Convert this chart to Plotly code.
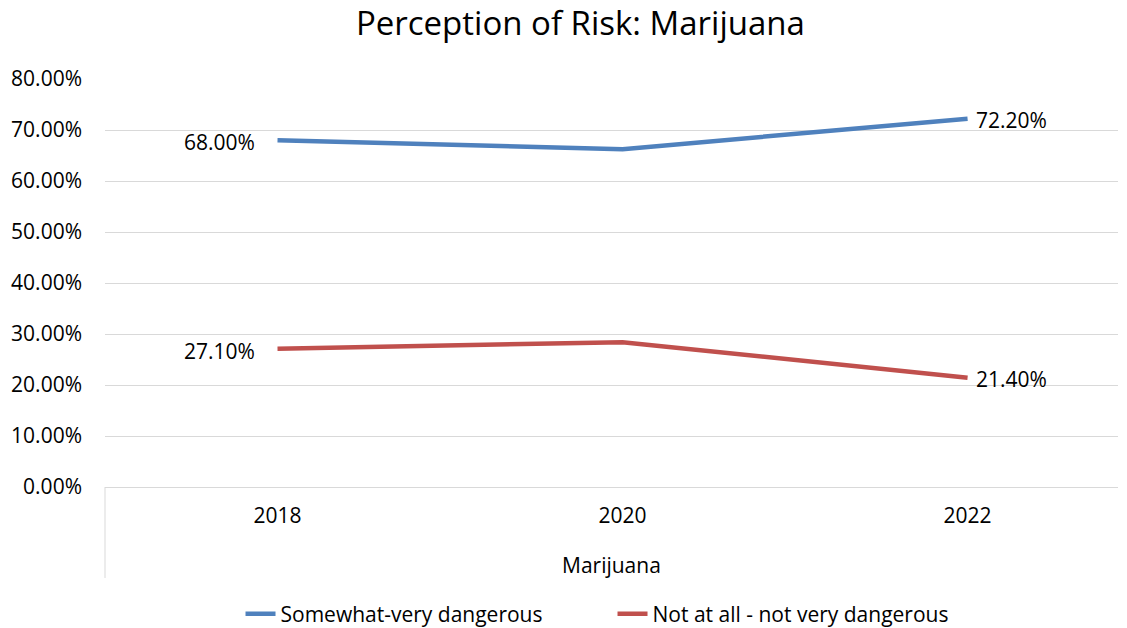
import plotly.graph_objects as go

# Survey years and shares of respondents (percent)
years = ["2018", "2020", "2022"]
somewhat_very = [68.00, 66.25, 72.20]
not_very = [27.10, 28.40, 21.40]
series_names = ["Somewhat-very dangerous", "Not at all - not very dangerous"]
series_colors = ["#4F81BD", "#C0504D"]
y_ticks = [0, 10, 20, 30, 40, 50, 60, 70, 80]
group_label = "Marijuana"

FONT = "Open Sans, sans-serif"
FS = 21
x_pos = list(range(len(years)))

fig = go.Figure()
for name, vals, col in zip(series_names, [somewhat_very, not_very], series_colors):
    fig.add_trace(go.Scatter(
        x=x_pos, y=vals, name=name, mode="lines",
        line=dict(color=col, width=4.5),
        hoverinfo="skip",
    ))
    # Value labels on the first and last year only
    fig.add_annotation(x=x_pos[0], y=vals[0], text=f"{vals[0]:.2f}%",
                       showarrow=False, xanchor="right", yanchor="middle",
                       xshift=-21, yshift=-2, font=dict(size=FS, color="#000000", family=FONT))
    fig.add_annotation(x=x_pos[-1], y=vals[-1], text=f"{vals[-1]:.2f}%",
                       showarrow=False, xanchor="left", yanchor="middle",
                       xshift=6, yshift=-1, font=dict(size=FS, color="#000000", family=FONT))

# Outer category label and its separator line
fig.add_annotation(x=0.5, xref="paper", y=-0.191, yref="paper", text=group_label,
                   showarrow=False, xanchor="center", yanchor="middle",
                   font=dict(size=FS, color="#000000", family=FONT))
fig.add_shape(type="line", xref="paper", yref="paper", x0=0, x1=0, y0=0, y1=-0.223,
              line=dict(color="#D9D9D9", width=1))

fig.update_layout(
    width=1127, height=628,
    paper_bgcolor="white", plot_bgcolor="white",
    margin=dict(l=105, r=9, t=79, b=141, autoexpand=False),
    title=dict(text="Perception of Risk: Marijuana", x=0.515, xanchor="center",
               y=0.962, yanchor="middle",
               font=dict(size=33, color="#000000", family=FONT)),
    font=dict(family=FONT, color="#000000", size=FS),
    showlegend=True,
    legend=dict(orientation="h", x=0.501, xanchor="center",
                yref="container", y=0.022, yanchor="middle",
                font=dict(size=FS, color="#000000", family=FONT),
                entrywidth=327, entrywidthmode="pixels",
                tracegroupgap=0),
    xaxis=dict(range=[-0.5, 2.436], tickvals=x_pos, ticktext=years,
               showgrid=False, zeroline=False, showline=False, ticks="",
               ticklabelstandoff=14, fixedrange=True,
               tickfont=dict(size=FS, color="#000000", family=FONT)),
    yaxis=dict(range=[0, 80], tickvals=y_ticks,
               ticktext=[f"{v:.2f}%" for v in y_ticks],
               showgrid=True, gridcolor="#D9D9D9", gridwidth=1,
               zeroline=True, zerolinecolor="#D9D9D9", zerolinewidth=1,
               showline=False, ticks="", ticklabelstandoff=22,
               tickfont=dict(size=FS, color="#000000", family=FONT)),
)

fig.write_html("out.html")
